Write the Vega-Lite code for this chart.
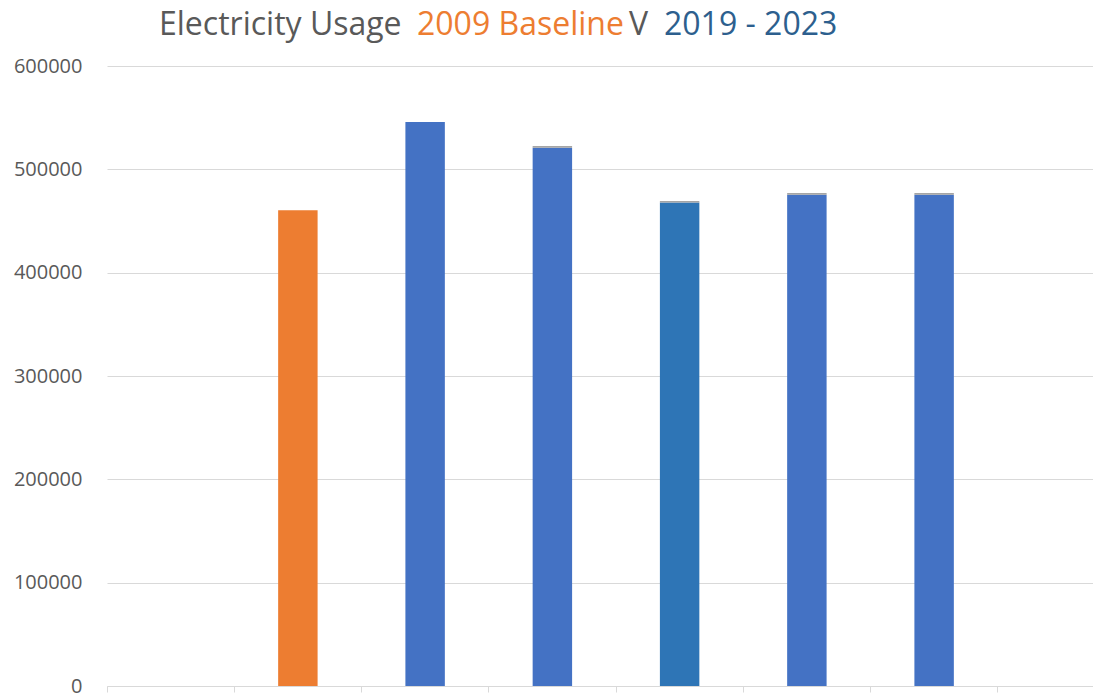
{
  "$schema": "https://vega.github.io/schema/vega-lite/v6.json",
  "width": 986,
  "height": 620,
  "autosize": {"type": "none"},
  "padding": {"left": 107, "top": 66, "right": 0, "bottom": 9},
  "background": "white",
  "config": {"view": {"stroke": null}, "font": "Open Sans"},
  "datasets": {
    "usage": [
      {"year": "2009", "series": "Baseline", "kwh": 460500},
      {"year": "2019", "series": "Usage", "kwh": 545800},
      {"year": "2020", "series": "Usage", "kwh": 521000},
      {"year": "2020", "series": "Variance", "kwh": 1500},
      {"year": "2021", "series": "Usage 2021", "kwh": 467800},
      {"year": "2021", "series": "Variance", "kwh": 1500},
      {"year": "2022", "series": "Usage", "kwh": 475500},
      {"year": "2022", "series": "Variance", "kwh": 1500},
      {"year": "2023", "series": "Usage", "kwh": 475500},
      {"year": "2023", "series": "Variance", "kwh": 1500}
    ],
    "titleparts": [{"part": "Electricity Usage"}, {"part": "2009 Baseline"}, {"part": "V"}, {"part": "2019 - 2023"}]
  },
  "layer": [
    {
      "data": {"name": "usage"},
      "mark": {"type": "bar", "width": {"band": 0.31}},
      "encoding": {
        "x": {
          "field": "year", "type": "nominal",
          "scale": {"domain": ["start", "2009", "2019", "2020", "2021", "2022", "2023", "end"], "range": [0, 1018], "paddingInner": 0, "paddingOuter": 0},
          "axis": {"title": null, "labels": false, "grid": false, "bandPosition": 0, "domainColor": "#d9d9d9", "domainWidth": 1, "tickColor": "#d9d9d9", "tickSize": 6, "tickWidth": 1}
        },
        "y": {
          "field": "kwh", "type": "quantitative", "stack": "zero",
          "scale": {"domain": [0, 600000], "nice": false},
          "axis": {"title": null, "values": [0, 100000, 200000, 300000, 400000, 500000, 600000], "format": "d", "domain": false, "ticks": false, "tickSize": 0, "labelPadding": 25, "labelColor": "#595959", "labelFont": "Open Sans", "labelFontSize": 20, "gridColor": "#d9d9d9", "gridWidth": 1}
        },
        "order": {"field": "series", "sort": "ascending"},
        "color": {
          "field": "series", "type": "nominal", "legend": null,
          "scale": {"domain": ["Baseline", "Usage", "Usage 2021", "Variance"], "range": ["#ED7D31", "#4472C4", "#2E75B6", "#A5A5A5"]}
        }
      }
    },
    {
      "data": {"name": "titleparts"},
      "transform": [{"filter": "datum.part == 'Electricity Usage'"}],
      "mark": {"type": "text", "align": "left", "baseline": "alphabetic", "font": "Open Sans", "fontSize": 32, "color": "#595959"},
      "encoding": {"text": {"field": "part"}, "x": {"value": 52}, "y": {"value": -31}}
    },
    {
      "data": {"name": "titleparts"},
      "transform": [{"filter": "datum.part == '2009 Baseline'"}],
      "mark": {"type": "text", "align": "left", "baseline": "alphabetic", "font": "Open Sans", "fontSize": 32, "color": "#ED7D31"},
      "encoding": {"text": {"field": "part"}, "x": {"value": 310}, "y": {"value": -31}}
    },
    {
      "data": {"name": "titleparts"},
      "transform": [{"filter": "datum.part == 'V'"}],
      "mark": {"type": "text", "align": "left", "baseline": "alphabetic", "font": "Open Sans", "fontSize": 32, "color": "#595959"},
      "encoding": {"text": {"field": "part"}, "x": {"value": 522}, "y": {"value": -31}}
    },
    {
      "data": {"name": "titleparts"},
      "transform": [{"filter": "datum.part == '2019 - 2023'"}],
      "mark": {"type": "text", "align": "left", "baseline": "alphabetic", "font": "Open Sans", "fontSize": 32, "color": "#2D5F8E"},
      "encoding": {"text": {"field": "part"}, "x": {"value": 557}, "y": {"value": -31}}
    }
  ]
}
